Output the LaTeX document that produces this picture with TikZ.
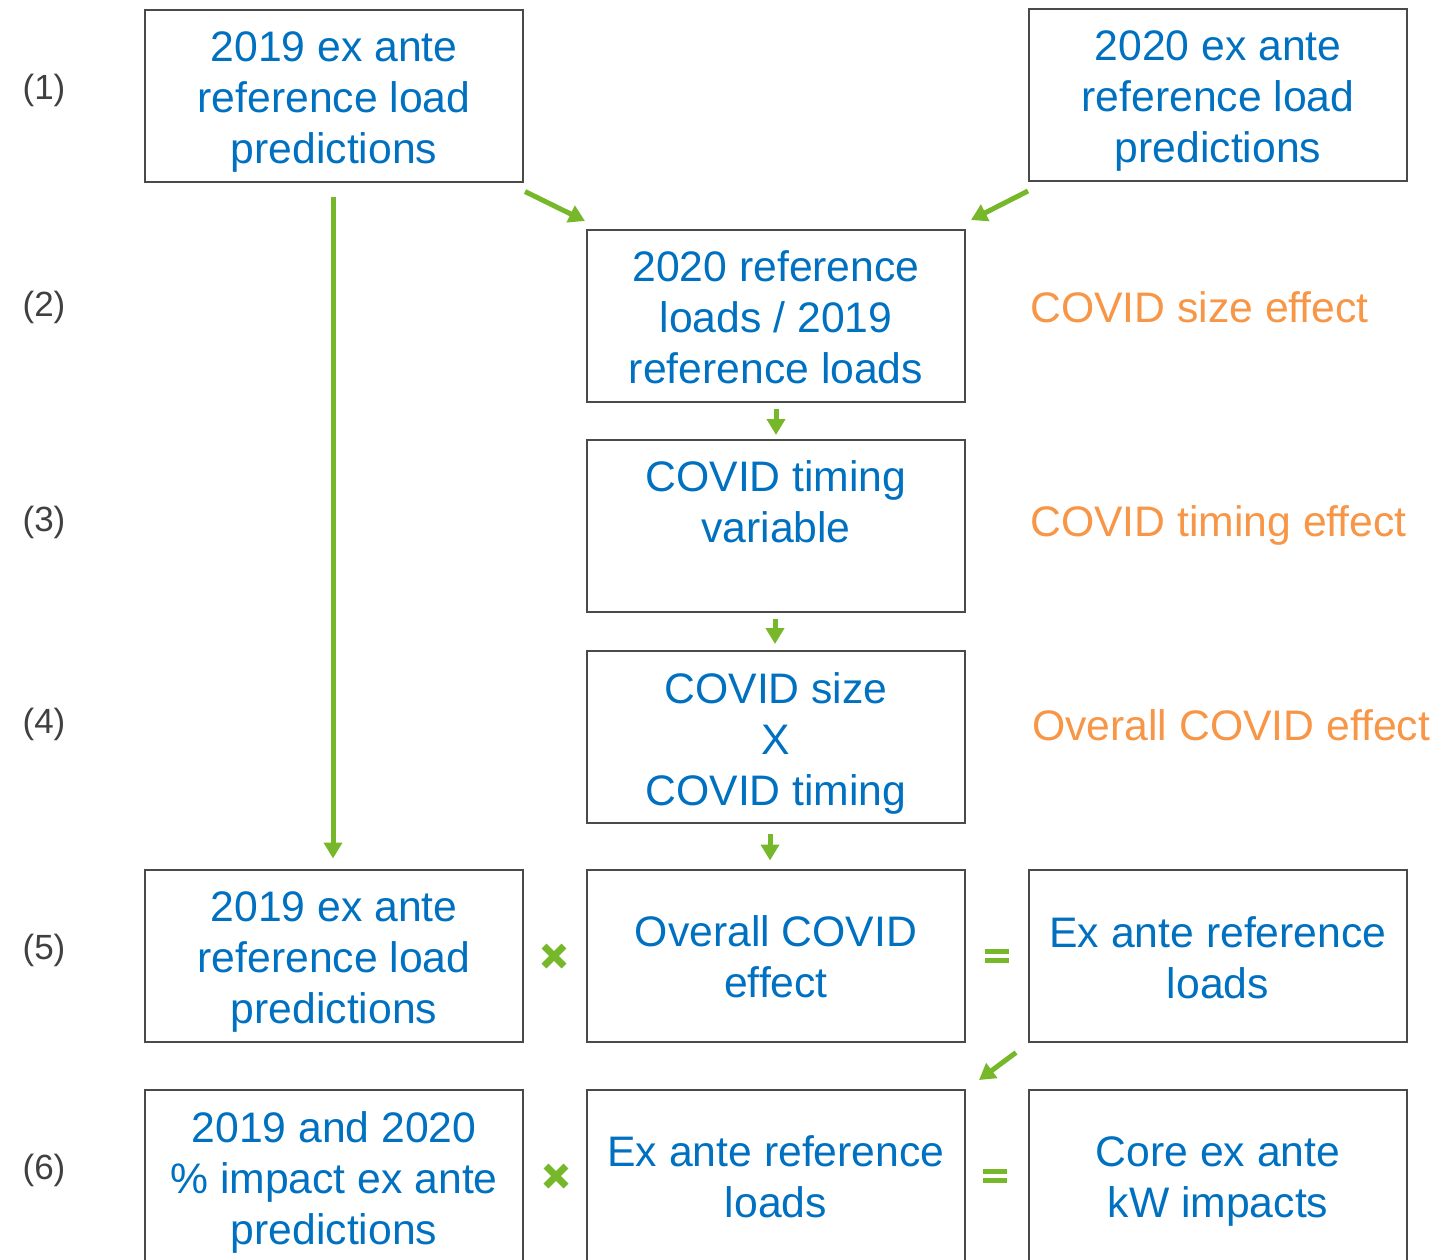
\documentclass[tikz,border=0pt]{standalone}
\usepackage{fontspec}
\setmainfont{Liberation Sans}
\usetikzlibrary{arrows.meta}

\definecolor{boxblue}{HTML}{0070C0}
\definecolor{effectorange}{HTML}{F79646}
\definecolor{flowgreen}{HTML}{77B82A}
\definecolor{edgegray}{HTML}{4A4A4A}
\definecolor{labelgray}{HTML}{404040}

\tikzset{
  stagebox/.style={draw=edgegray, line width=2pt, minimum width=378pt,
    minimum height=172pt, inner sep=0pt},
  stagetext/.style={inner sep=0pt, align=center, text=boxblue,
    font=\fontsize{42.7}{51}\selectfont},
  rowlabel/.style={text=labelgray, font=\fontsize{35}{42}\selectfont, inner sep=0pt},
  effect/.style={anchor=base west, text=effectorange, font=\fontsize{42.7}{51}\selectfont, inner sep=0pt},
  flow/.style={draw=flowgreen, line width=5pt,
    -{Triangle[width=18pt,length=16pt]}},
  opmark/.style={draw=flowgreen, line width=7pt},
}

\begin{document}
\begin{tikzpicture}[x=1pt, y=-1pt]
\useasboundingbox (0,0) rectangle (1440,1259);
\clip (0,0) rectangle (1440,1259);

% row numbers
\node[rowlabel] (r1) at (44,90)   {(1)};
\node[rowlabel] (r2) at (44,307)  {(2)};
\node[rowlabel] (r3) at (44,522)  {(3)};
\node[rowlabel] (r4) at (44,724)  {(4)};
\node[rowlabel] (r5) at (44,950)  {(5)};
\node[rowlabel] (r6) at (44,1170) {(6)};

% boxes
\node[stagebox] (pred19)   at (334,95.5)   {};
\node[stagebox] (pred20)   at (1218,95)    {};
\node[stagebox] (ratio)    at (776,316)    {};
\node[stagebox] (timing)   at (776,526)    {};
\node[stagebox] (product)  at (776,737)    {};
\node[stagebox] (pred19b)  at (334,955.5)  {};
\node[stagebox] (overall)  at (776,955.5)  {};
\node[stagebox] (refload)  at (1218,955.5) {};
\node[stagebox] (impact)   at (334,1176)   {};
\node[stagebox] (refload2) at (776,1176)   {};
\node[stagebox] (core)     at (1218,1176)  {};

% box texts
\node[stagetext] (pred19-t)   at ([yshift=-6.5pt]pred19.center)   {2019 ex ante\\reference load\\predictions};
\node[stagetext] (pred20-t)   at ([yshift=-6pt]pred20.center)     {2020 ex ante\\reference load\\predictions};
\node[stagetext] (ratio-t)    at ([yshift=-1pt]ratio.center)      {2020 reference\\loads / 2019\\reference loads};
\node[stagetext] (timing-t)   at ([yshift=-1pt]timing.center)     {COVID timing\\variable\\\mbox{}};
\node[stagetext] (product-t)  at ([yshift=-6pt]product.center)    {COVID size\\X\\COVID timing};
\node[stagetext] (pred19b-t)  at ([yshift=-6.5pt]pred19b.center)  {2019 ex ante\\reference load\\predictions};
\node[stagetext] (overall-t)  at ([yshift=-1pt]overall.center)    {Overall COVID\\effect};
\node[stagetext] (refload-t)  at ([yshift=-2pt]refload.center)    {Ex ante reference\\loads};
\node[stagetext] (impact-t)   at ([yshift=-6pt]impact.center)     {2019 and 2020\\\% impact ex ante\\predictions};
\node[stagetext] (refload2-t) at ([yshift=-1pt]refload2.center)   {Ex ante reference\\loads};
\node[stagetext] (core-t)     at ([yshift=-6pt]core.center)       {Core ex ante\\kW impacts};

% effect labels
\node[effect] (sizefx) at (1030,322) {COVID size effect};
\node[effect] (timefx) at (1030,536) {COVID timing effect};
\node[effect] (overfx) at (1032,740) {Overall COVID effect};

% connectors
\draw[flow] ([xshift=-1pt,yshift=-14pt]pred19.south) -- ([xshift=-1pt,yshift=10pt]pred19b.north);
\draw[flow] ([xshift=1pt,yshift=-9pt]pred19.south east) -- ([xshift=-1pt,yshift=8pt]ratio.north west);
\draw[flow] ([yshift=-9pt]pred20.south west) -- ([xshift=5pt,yshift=9pt]ratio.north east);
\draw[flow] ([yshift=-6pt]ratio.south) -- ([yshift=4pt]timing.north);
\draw[flow] ([xshift=-1pt,yshift=-6pt]timing.south) -- ([xshift=-1pt,yshift=6pt]product.north);
\draw[flow] ([xshift=-6pt,yshift=-10pt]product.south) -- ([xshift=-6pt,yshift=8pt]overall.north);
\draw[flow] ([xshift=-12pt,yshift=-10pt]refload.south west) -- ([xshift=13pt,yshift=9pt]refload2.north east);

% multiplication and equals marks
\draw[opmark] (544,946) -- (564,966) (544,966) -- (564,946);
\draw[opmark] (546,1166) -- (566,1186) (546,1186) -- (566,1166);
\draw[opmark, line width=5.5pt] (985,951.5) -- (1009,951.5) (985,960.5) -- (1009,960.5);
\draw[opmark, line width=5.5pt] (983,1171.5) -- (1007,1171.5) (983,1180.5) -- (1007,1180.5);
\end{tikzpicture}
\end{document}
